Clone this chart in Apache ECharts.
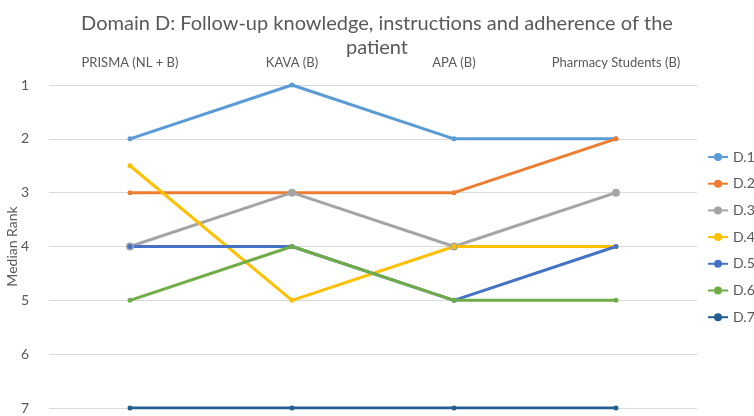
<!DOCTYPE html>
<html><head><meta charset="utf-8">
<script src="https://cdn.jsdelivr.net/npm/echarts@6/dist/echarts.min.js"></script>
<style>html,body{margin:0;padding:0;background:#fff}#c{width:754px;height:416px}</style>
</head><body><div id="c"></div>
<script>
const categories = ['PRISMA (NL + B)', 'KAVA (B)', 'APA (B)', 'Pharmacy Students (B)'];
const seriesNames = ['D.1', 'D.2', 'D.3', 'D.4', 'D.5', 'D.6', 'D.7'];
const d1 = [2, 1, 2, 2];
const d2 = [3, 3, 3, 2];
const d3 = [4, 3, 4, 3];
const d4 = [2.5, 5, 4, 4];
const d5 = [4, 4, 5, 4];
const d6 = [5, 4, 5, 5];
const d7 = [7, 7, 7, 7];
const values = [d1, d2, d3, d4, d5, d6, d7];
const colors = ['#5b9bd5', '#ed7d31', '#a5a5a5', '#ffc000', '#4472c4', '#70ad47', '#255e91'];
const symbolSizes = [5, 5, 8, 5, 5, 5, 5];
const FONT = 'Lato, "Liberation Sans", sans-serif';

const chart = echarts.init(document.getElementById('c'));
chart.setOption({
  animation: false,
  color: colors,
  title: {
    text: 'Domain D: Follow-up knowledge, instructions and adherence of the\npatient',
    left: 'center', top: 7,
    textStyle: { fontFamily: FONT, fontSize: 20, fontWeight: 'normal', color: '#595959', lineHeight: 24 }
  },
  legend: {
    orient: 'vertical', left: 707, top: 150, itemGap: 12.7, padding: 0,
    itemWidth: 20, itemHeight: 10,
    textStyle: { fontFamily: FONT, fontSize: 14, color: '#595959' },
    data: seriesNames
  },
  grid: { left: 49, right: 57, top: 85, bottom: 8, outerBoundsMode: 'none', containLabel: false },
  xAxis: {
    type: 'category', position: 'top', data: categories, boundaryGap: true,
    axisLine: { show: false }, axisTick: { show: false },
    axisLabel: { fontFamily: FONT, fontSize: 13, color: '#595959', margin: 16, interval: 0 }
  },
  yAxis: {
    type: 'value', inverse: true, min: 1, max: 7, interval: 1,
    name: 'Median Rank', nameLocation: 'middle', nameGap: 30, nameRotate: 90,
    nameMoveOverlap: false,
    nameTextStyle: { fontFamily: FONT, fontSize: 14, color: '#595959' },
    axisLine: { show: false }, axisTick: { show: false },
    axisLabel: { fontFamily: FONT, fontSize: 14, color: '#595959', margin: 20 },
    splitLine: { lineStyle: { color: '#d9d9d9', width: 1 } }
  },
  series: seriesNames.map((n, i) => ({
    name: n, type: 'line', data: values[i],
    symbol: 'circle', symbolSize: symbolSizes[i],
    lineStyle: { width: 3, color: colors[i] },
    itemStyle: { color: colors[i] }
  }))
});
</script></body></html>
